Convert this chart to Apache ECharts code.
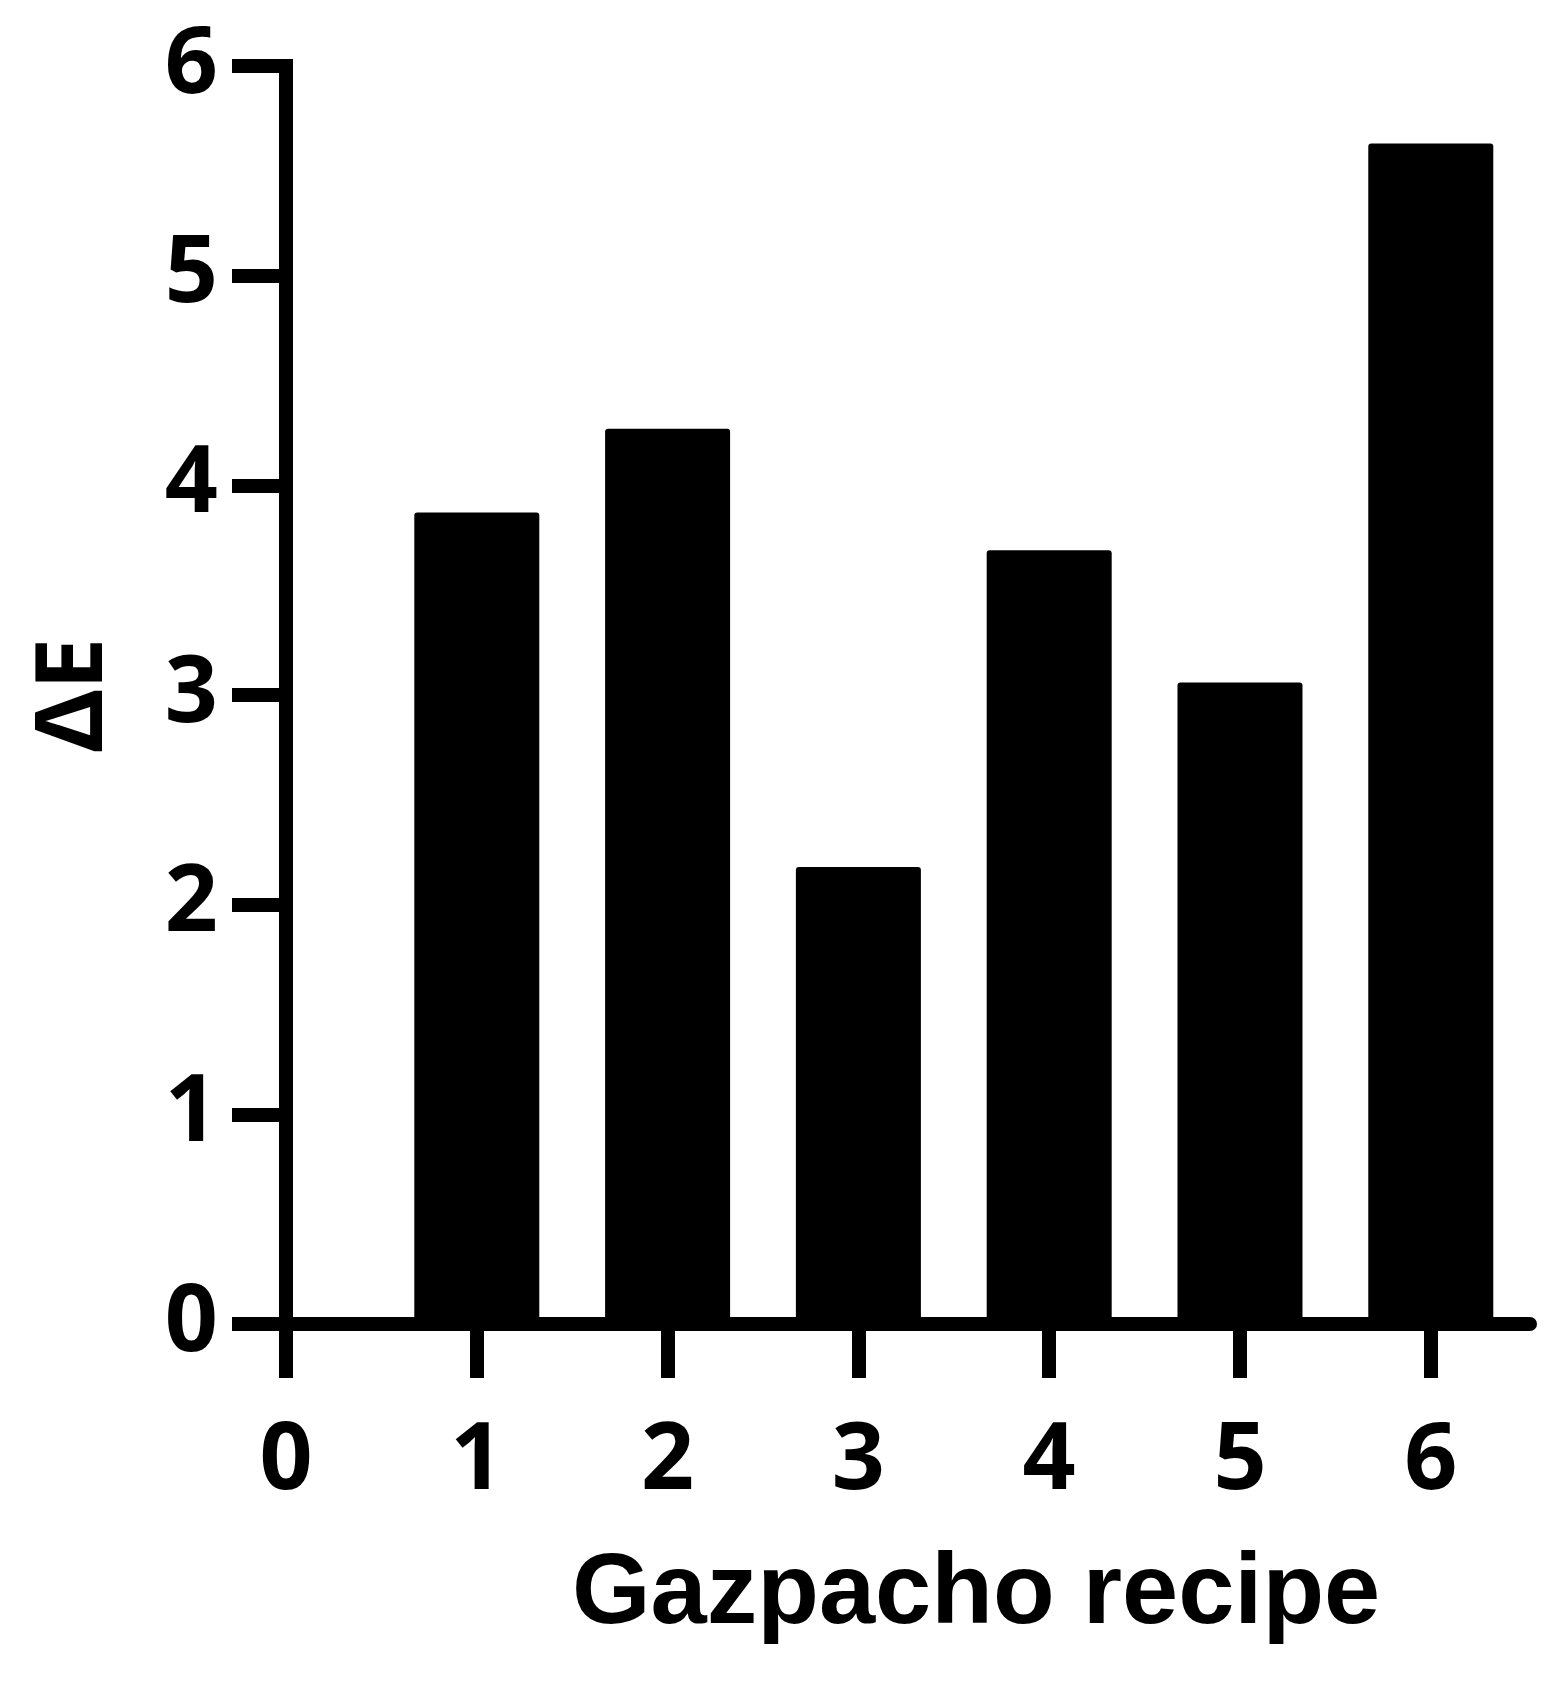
<!DOCTYPE html>
<html>
<head>
<meta charset="utf-8">
<script src="https://cdn.jsdelivr.net/npm/echarts@6/dist/echarts.min.js"></script>
<style>
  html, body { margin: 0; padding: 0; background: #fff; }
  #app { width: 1567px; height: 1686px; }
</style>
</head>
<body>
<div id="app"></div>
<script>
// recipe number on the x axis, delta E on the y axis
var recipes = [1, 2, 3, 4, 5, 6];
var deltaE = [3.87, 4.27, 2.18, 3.69, 3.06, 5.63];
var xTicks = [0, 1, 2, 3, 4, 5, 6];

var chartDom = document.getElementById("app");
var myChart = echarts.init(chartDom);
var labelFont = { color: "#000", fontFamily: "Noto Sans", fontWeight: "bold", fontSize: 93 };

var option = {
  animation: false,
  backgroundColor: "#fff",
  grid: { left: 286, right: 37, top: 66, bottom: 362 },
  graphic: [
    {
      type: "text",
      left: 572,
      top: 1545,
      style: {
        text: "Gazpacho recipe",
        fill: "#000",
        font: "bold 101px 'Liberation Sans', Arial, sans-serif"
      }
    }
  ],
  xAxis: {
    type: "value",
    min: 0,
    max: 6.52,
    interval: 1,
    axisLine: { show: true, onZero: false, lineStyle: { color: "#000", width: 14 } },
    axisTick: {
      show: true,
      length: 54,
      customValues: xTicks,
      lineStyle: { color: "#000", width: 14 }
    },
    axisLabel: Object.assign({ margin: 92, customValues: xTicks }, labelFont),
    splitLine: { show: false }
  },
  yAxis: {
    type: "value",
    min: 0,
    max: 6,
    interval: 1,
    name: "\u0394E",
    nameLocation: "middle",
    nameGap: 164,
    nameRotate: 90,
    nameTextStyle: labelFont,
    axisLine: { show: true, onZero: false, lineStyle: { color: "#000", width: 14, cap: "square" } },
    axisTick: { show: true, length: 54, lineStyle: { color: "#000", width: 14 } },
    axisLabel: Object.assign({ margin: 68 }, labelFont),
    splitLine: { show: false }
  },
  series: [
    {
      type: "bar",
      data: recipes.map(function (r, i) { return [r, deltaE[i]]; }),
      barWidth: 125,
      itemStyle: { color: "#000", borderRadius: [3, 3, 0, 0] },
      z: 1
    }
  ]
};

option && myChart.setOption(option);
</script>
</body>
</html>
